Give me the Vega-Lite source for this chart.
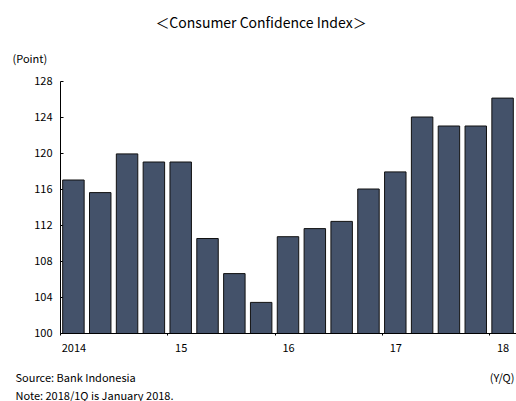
{
  "$schema": "https://vega.github.io/schema/vega-lite/v6.json",
  "autosize": {"type": "none"},
  "width": 456,
  "height": 252,
  "padding": {"left": 60, "top": 81, "right": 0, "bottom": 68},
  "background": "white",
  "config": {
    "view": {"stroke": null},
    "font": "Noto Sans CJK JP",
    "axis": {"labelFont": "Noto Sans CJK JP", "titleFont": "Noto Sans CJK JP", "labelColor": "#000", "titleColor": "#000", "titleFontWeight": "normal"}
  },
  "title": {
    "text": "＜Consumer Confidence Index＞",
    "fontSize": 14,
    "fontWeight": "normal",
    "font": "Noto Sans CJK JP",
    "color": "#000",
    "anchor": "middle",
    "frame": "group",
    "dx": -27,
    "offset": 22
  },
  "data": {
    "values": [
      {"q": "2014Q1", "v": 117.0},
      {"q": "2014Q2", "v": 115.6},
      {"q": "2014Q3", "v": 119.9},
      {"q": "2014Q4", "v": 119.0},
      {"q": "2015Q1", "v": 119.0},
      {"q": "2015Q2", "v": 110.5},
      {"q": "2015Q3", "v": 106.6},
      {"q": "2015Q4", "v": 103.4},
      {"q": "2016Q1", "v": 110.7},
      {"q": "2016Q2", "v": 111.6},
      {"q": "2016Q3", "v": 112.4},
      {"q": "2016Q4", "v": 116.0},
      {"q": "2017Q1", "v": 117.9},
      {"q": "2017Q2", "v": 124.0},
      {"q": "2017Q3", "v": 123.0},
      {"q": "2017Q4", "v": 123.0},
      {"q": "2018Q1", "v": 126.1}
    ]
  },
  "layer": [
    {
      "mark": {"type": "bar", "fill": "#44526a", "stroke": "#111", "strokeWidth": 1, "clip": true},
      "encoding": {
        "x": {
          "field": "q", "type": "ordinal", "sort": null,
          "scale": {"paddingInner": 0.2, "paddingOuter": 0.1},
          "axis": {
            "values": ["2014Q1", "2015Q1", "2016Q1", "2017Q1", "2018Q1"],
            "labelExpr": "datum.value == '2014Q1' ? '2014' : slice(datum.value, 2, 4)",
            "labelAngle": 0,
            "labelFontSize": 11,
            "bandPosition": 0,
            "tickOffset": -2.7,
            "labelOffset": 2.7,
            "tickSize": 2,
            "tickColor": "#000",
            "domainColor": "#000",
            "domainWidth": 1,
            "labelPadding": 7,
            "title": ["Source: Bank Indonesia", "Note: 2018/1Q is January 2018."],
            "titleFontSize": 11,
            "titleAlign": "left",
            "titleAnchor": "start",
            "titleBaseline": "alphabetic",
            "titleX": -45,
            "titleY": 48,
            "titleLineHeight": 18
          }
        },
        "y": {
          "field": "v", "type": "quantitative",
          "scale": {"domain": [100, 128], "nice": false, "zero": false},
          "axis": {
            "values": [100, 104, 108, 112, 116, 120, 124, 128],
            "grid": false,
            "labelFontSize": 11,
            "tickSize": -3,
            "tickColor": "#000",
            "domainColor": "#000",
            "labelPadding": 11,
            "title": "(Point)",
            "titleFontSize": 11,
            "titleAngle": 0,
            "titleAlign": "left",
            "titleBaseline": "alphabetic",
            "titleX": -48,
            "titleY": -19
          }
        }
      }
    },
    {
      "mark": {"type": "bar", "opacity": 0},
      "encoding": {
        "x": {"field": "q", "type": "ordinal", "sort": null},
        "y": {
          "field": "v", "type": "quantitative",
          "scale": {"domain": [100, 128], "nice": false, "zero": false},
          "axis": {
            "orient": "right",
            "domain": false, "ticks": false, "labels": false, "grid": false,
            "title": "(Y/Q)",
            "titleFontSize": 11,
            "titleAngle": 0,
            "titleAlign": "right",
            "titleBaseline": "alphabetic",
            "titleX": -2,
            "titleY": 300
          }
        }
      }
    }
  ],
  "resolve": {"scale": {"y": "independent"}, "axis": {"y": "independent"}}
}
